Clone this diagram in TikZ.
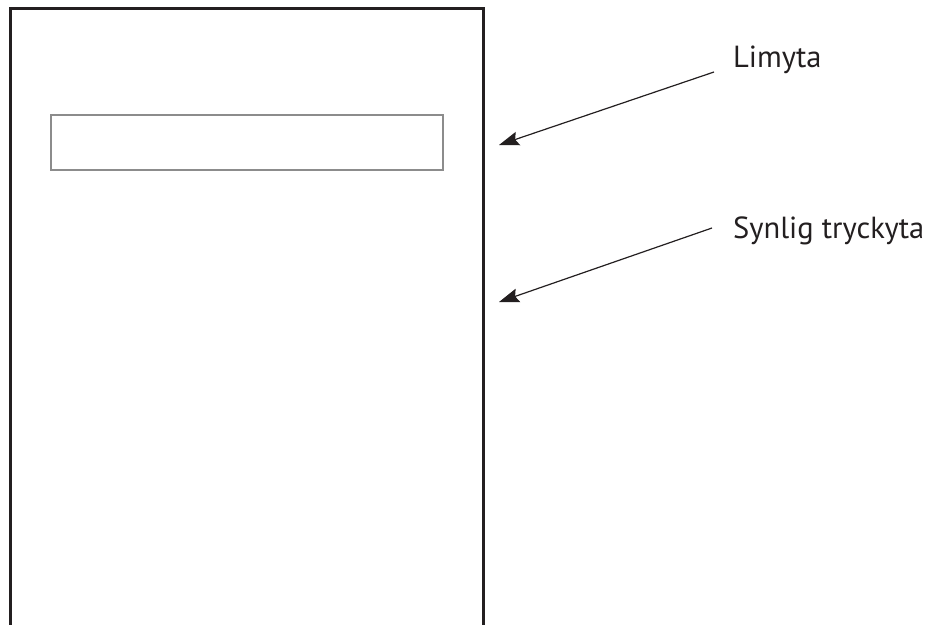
\documentclass[tikz,border=0pt]{standalone}
\usepackage{fontspec}
\setmainfont{PT Sans}
\usetikzlibrary{arrows.meta}
\definecolor{ink}{HTML}{231F20}
\definecolor{greyframe}{HTML}{8C8C8C}
\begin{document}
\begin{tikzpicture}[x=1pt,y=-1pt,
  frame/.style={draw=ink,line width=3pt},
  inner/.style={draw=greyframe,line width=2pt},
  pointer/.style={draw=ink,line width=1.2pt,-{Stealth[length=20pt,width=14pt,inset=3pt]}},
  lbl/.style={font=\fontsize{30.5}{36}\selectfont,text=ink,inner sep=0pt,anchor=base west}]
\useasboundingbox (0,0) rectangle (929,624);
\clip (0,0) rectangle (929,624);
\draw[frame] (10.5,8.5) rectangle (483.5,640);
\draw[inner] (51,115) rectangle (443,170);
\node[lbl] (lim) at (733,67) {Limyta};
\node[lbl] (syn) at (733,238) {Synlig tryckyta};
\coordinate (s1) at (714,72);
\coordinate (e1) at (499,145);
\coordinate (s2) at (712,228);
\coordinate (e2) at (499,302);
\draw[pointer] (s1) -- (e1);
\draw[pointer] (s2) -- (e2);
\end{tikzpicture}
\end{document}
